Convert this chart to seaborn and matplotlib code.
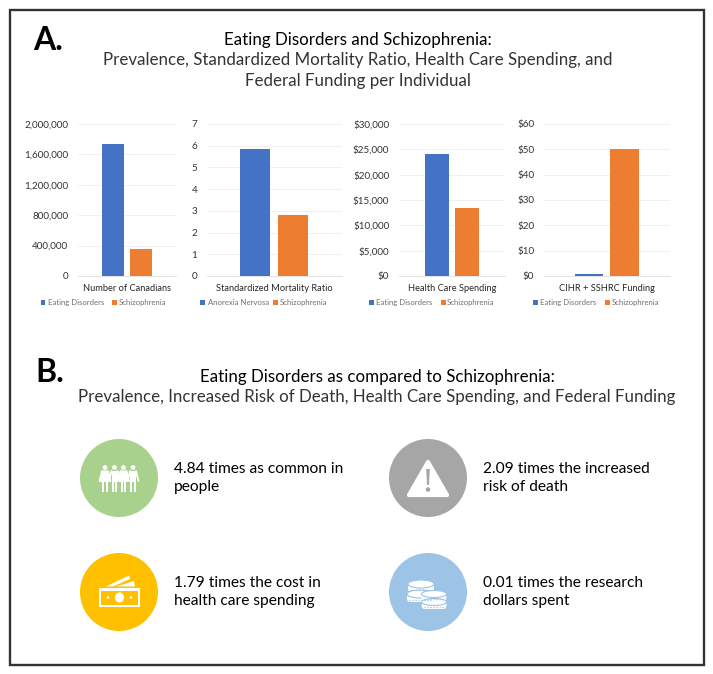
import matplotlib
matplotlib.use("Agg")
import matplotlib.pyplot as plt
from matplotlib.patches import Circle, Rectangle, Polygon, Ellipse, FancyBboxPatch
from matplotlib.ticker import FuncFormatter
import pandas as pd
import seaborn as sns

sns.set_theme(style="white")
plt.rcParams['font.family'] = ['Lato', 'DejaVu Sans']

W, H = 713, 674
BLUE, ORANGE = "#4472C4", "#ED7D31"

# data
canadians_labels = ["Eating Disorders", "Schizophrenia"]
canadians_values = [1740000, 360000]
smr_labels = ["Anorexia Nervosa", "Schizophrenia"]
smr_values = [5.86, 2.8]
spending_labels = ["Eating Disorders", "Schizophrenia"]
spending_values = [24000, 13400]
funding_labels = ["Eating Disorders", "Schizophrenia"]
funding_values = [0.7, 50.2]
canadians_ticks = [0, 400000, 800000, 1200000, 1600000, 2000000]
smr_ticks = [0, 1, 2, 3, 4, 5, 6, 7]
spending_ticks = [0, 5000, 10000, 15000, 20000, 25000, 30000]
funding_ticks = [0, 10, 20, 30, 40, 50, 60]
chart_titles = ["Number of Canadians", "Standardized Mortality Ratio",
                "Health Care Spending", "CIHR + SSHRC Funding"]
tick_formats = ["{:,.0f}", "{:.0f}", "${:,.0f}", "${:,.0f}"]
comparison_texts = ["4.84 times as common in\npeople", "2.09 times the increased\nrisk of death",
                    "1.79 times the cost in\nhealth care spending", "0.01 times the research\ndollars spent"]

fig = plt.figure(figsize=(W / 100, H / 100), dpi=100, facecolor="white")

# pixel-coordinate overlay for text, frame and icons
ov = fig.add_axes([0, 0, 1, 1], zorder=0)
ov.set_xlim(0, W)
ov.set_ylim(H, 0)
ov.axis("off")
ov.add_patch(Rectangle((9.5, 9.5), 694, 655, fill=False, ec="#333333", lw=1.7))


def chart(left, right, labels, values, ticks, fmt, title):
    ax = fig.add_axes([left / W, 1 - 276 / H, (right - left) / W, 152 / H], zorder=2)
    ax.patch.set_alpha(0)
    df = pd.DataFrame({"label": labels, "value": values})
    sns.barplot(data=df, x="label", y="value", hue="label", palette=[BLUE, ORANGE],
                width=0.79, legend=False, ax=ax, saturation=1, linewidth=0)
    ax.set_xlim(-1.25, 2.27)
    ax.set_ylim(ticks[0], ticks[-1])
    ax.set_yticks(ticks)
    ax.yaxis.set_major_formatter(FuncFormatter(lambda v, _: fmt.format(v)))
    ax.tick_params(axis="y", length=0, labelsize=7.1, labelcolor="#333333", pad=7)
    ax.set_xticks([])
    ax.set_xlabel("")
    ax.set_ylabel("")
    ax.grid(axis="y", color="#F0F0F0", lw=0.7)
    ax.set_axisbelow(True)
    for s in ["top", "left", "right"]:
        ax.spines[s].set_visible(False)
    ax.spines["bottom"].set_color("#E4E4E4")
    ax.spines["bottom"].set_linewidth(0.7)
    cx = (left + right) / 2
    ov.text(cx, 288.5, title, ha="center", va="center", fontsize=6.65, color="#262626")
    return cx


def legend(x_sq1, x_t1, x_sq2, x_t2, labels):
    y = 302.5
    for xs, xt, col, lab in [(x_sq1, x_t1, BLUE, labels[0]), (x_sq2, x_t2, ORANGE, labels[1])]:
        ov.add_patch(Rectangle((xs, y - 2.4), 4.8, 4.8, fc=col, ec="none"))
        ov.text(xt, y, lab, ha="left", va="center", fontsize=5.6, color="#707070")


chart(78, 176, canadians_labels, canadians_values, canadians_ticks, tick_formats[0], chart_titles[0])
chart(207, 342, smr_labels, smr_values, smr_ticks, tick_formats[1], chart_titles[1])
chart(399, 505, spending_labels, spending_values, spending_ticks, tick_formats[2], chart_titles[2])
chart(544, 670, funding_labels, funding_values, funding_ticks, tick_formats[3], chart_titles[3])
legend(40.5, 48, 111.7, 119, canadians_labels)
legend(200, 207.5, 272.7, 280, smr_labels)
legend(369.3, 376.5, 440.7, 447, spending_labels)
legend(533.3, 540.5, 605, 612, funding_labels)

# headings
ov.text(33.5, 41, "A.", fontsize=23, fontweight="bold", color="black", ha="left", va="center")
ov.text(35, 373, "B.", fontsize=23, fontweight="bold", color="black", ha="left", va="center")
for y, t, c in [(40, "Eating Disorders and Schizophrenia:", "black"),
                (60, "Prevalence, Standardized Mortality Ratio, Health Care Spending, and", "#333333"),
                (81, "Federal Funding per Individual", "#333333")]:
    ov.text(358, y, t, ha="center", va="center", fontsize=12.2, color=c)
for y, t, c in [(377, "Eating Disorders as compared to Schizophrenia:", "black"),
                (397, "Prevalence, Increased Risk of Death, Health Care Spending, and Federal Funding", "#333333")]:
    ov.text(377, y, t, ha="center", va="center", fontsize=12.15, color=c)

# circles
centers = [(119, 478, "#A9D18E"), (428, 478, "#A6A6A6"), (119, 592, "#FFC000"), (428, 592, "#9DC3E6")]
for x, y, c in centers:
    ov.add_patch(Circle((x, y), 39, fc=c, ec="none"))

text_pos = [(174, 478), (483, 478), (174, 592), (483, 592)]
for (x, y), t in zip(text_pos, comparison_texts):
    ov.text(x, y, t, ha="left", va="center", fontsize=11.2, color="black", linespacing=1.4)

# people icon
for i, px in enumerate([105, 114.5, 123.5, 133]):
    ov.add_patch(Circle((px, 467.5), 2.4, fc="white", ec="none"))
    if i % 2 == 0:
        ov.add_patch(Polygon([(px - 2.5, 470.5), (px + 2.5, 470.5), (px + 5, 482), (px - 5, 482)], fc="white", ec="none"))
    else:
        ov.add_patch(Rectangle((px - 3, 470.5), 6, 11, fc="white", ec="none"))
    ov.add_patch(Rectangle((px - 2.8, 480), 2.2, 11.5, fc="white", ec="none"))
    ov.add_patch(Rectangle((px + 0.6, 480), 2.2, 11.5, fc="white", ec="none"))
    ov.plot([px - 5.5, px - 3], [481, 471], color="white", lw=1.3, solid_capstyle="round")
    ov.plot([px + 5.5, px + 3], [481, 471], color="white", lw=1.3, solid_capstyle="round")

# warning icon
ov.add_patch(Polygon([(428, 462), (447, 495), (409, 495)], closed=True, fc="white", ec="white", lw=3, joinstyle="round"))
ov.add_patch(Polygon([(426.2, 469), (429.8, 469), (429, 485), (427, 485)], fc="#A6A6A6", ec="none"))
ov.add_patch(Circle((428, 489.5), 2.3, fc="#A6A6A6", ec="none"))

# money icon
ov.add_patch(Rectangle((98.5, 588), 41.5, 19, fc="white", ec="none"))
ov.add_patch(Rectangle((101, 590.5), 36.5, 14, fc="#FFC000", ec="none"))
ov.add_patch(Ellipse((119.5, 597.5), 9, 10, fc="white", ec="none"))
ov.add_patch(Circle((108, 597.5), 1.3, fc="white", ec="none"))
ov.add_patch(Circle((131, 597.5), 1.3, fc="white", ec="none"))
ov.add_patch(Polygon([(106, 586.5), (129, 575.5), (130, 579), (113, 586.5)], fc="white", ec="none"))
ov.add_patch(Polygon([(116, 586.5), (134, 581), (135, 586.5)], fc="white", ec="none"))


# coins icon
def coin(cx, cy, w, h):
    ov.add_patch(FancyBboxPatch((cx - w / 2, cy), w, h, boxstyle="round,pad=0,rounding_size=3.5", fc="white", ec="none"))
    ov.add_patch(Ellipse((cx, cy), w, h * 1.0, fc="white", ec="#9DC3E6", lw=0.8))
    ov.plot([cx - w / 2 + 2, cx + w / 2 - 2], [cy + h * 0.72, cy + h * 0.72], color="#9DC3E6", lw=0.9, ls=(0, (1, 1.4)))


coin(421, 584, 26, 8)
coin(420, 594, 26, 8)
coin(434, 594, 25, 7)
coin(434, 602, 25, 7)

fig.savefig("out.png", dpi=100)
